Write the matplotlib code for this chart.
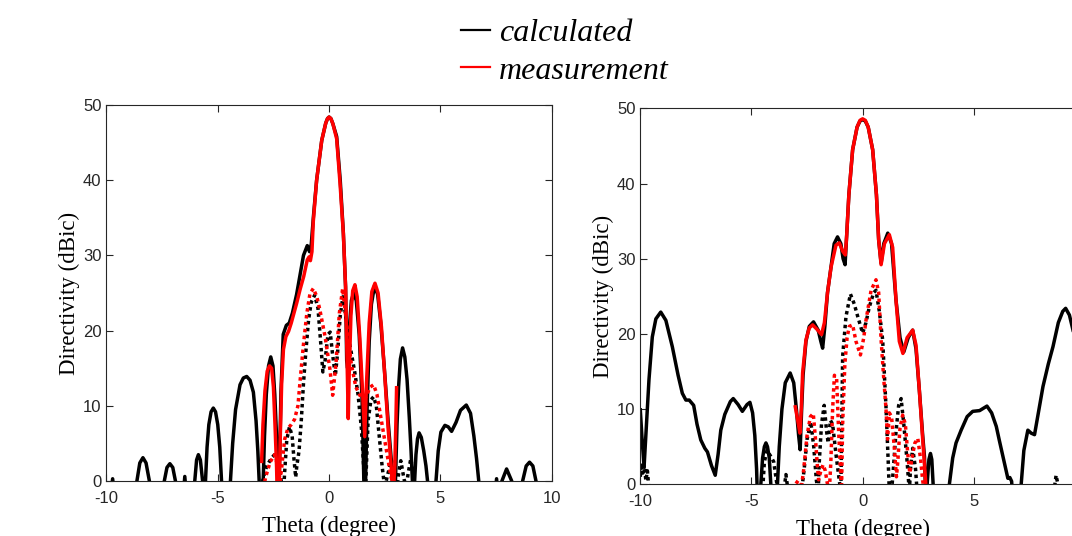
import matplotlib
matplotlib.use("Agg")
import matplotlib.pyplot as plt
from matplotlib.lines import Line2D

plt.rcParams['font.family'] = 'Liberation Sans'
plt.rcParams['axes.unicode_minus'] = False

# (theta deg, directivity dBic); values < 0 are nulls cut by the axis
left_calc_co = [
    (-9.85, -3), (-9.72, 0.3), (-9.6, -3),
    (-8.75, -3), (-8.63, 0), (-8.5, 2.4), (-8.36, 3.1), (-8.22, 2.4), (-8.07, 0), (-7.95, -3),
    (-7.55, -3), (-7.4, 0), (-7.28, 1.8), (-7.15, 2.3), (-7.02, 1.8), (-6.9, 0), (-6.8, -3),
    (-6.58, -3), (-6.48, 0.6), (-6.38, -3),
    (-6.12, -3), (-6.03, 0), (-5.95, 2.8), (-5.87, 3.5), (-5.78, 2.8), (-5.68, 0), (-5.62, -3),
    (-5.55, 0), (-5.48, 4.5), (-5.4, 7.5), (-5.3, 9.2), (-5.2, 9.7), (-5.1, 9.2), (-5.0, 7.5),
    (-4.91, 4.5), (-4.83, 0), (-4.75, -3),
    (-4.55, -3), (-4.43, 0), (-4.33, 5), (-4.2, 9.5), (-4.0, 12.8), (-3.85, 13.7), (-3.7, 13.9),
    (-3.55, 13.4), (-3.4, 11.8), (-3.28, 8), (-3.2, 4), (-3.14, 0), (-3.08, -3),
    (-3.02, -3), (-2.96, 0), (-2.9, 6), (-2.82, 11.5), (-2.72, 15.3), (-2.62, 16.5), (-2.52, 15.3),
    (-2.44, 11.5), (-2.36, 6), (-2.28, 0), (-2.26, -3),
    (-2.24, 0), (-2.16, 12), (-2.06, 19.5), (-1.92, 20.7), (-1.79, 21.0), (-1.65, 22.3),
    (-1.46, 24.8), (-1.3, 27.5), (-1.15, 30), (-0.98, 31.3), (-0.88, 30.5), (-0.8, 31.5),
    (-0.7, 35.3), (-0.56, 40), (-0.33, 45.3), (-0.15, 47.6), (-0.07, 48.2), (0, 48.4),
    (0.08, 48.2), (0.17, 47.5), (0.34, 45.8), (0.5, 40), (0.64, 33), (0.74, 25.8), (0.79, 16),
    (0.83, 15), (0.9, 20),
    (1.0, 24), (1.1, 25), (1.22, 24), (1.35, 19.5), (1.48, 11), (1.56, 0), (1.6, -3),
    (1.64, 0), (1.7, 9), (1.8, 18.5), (1.9, 23.5), (2.04, 26), (2.18, 24.8), (2.32, 21),
    (2.48, 15), (2.65, 8), (2.8, 2.5), (2.88, -3),
    (2.95, -3), (2.98, 0), (3.05, 7.5), (3.12, 12.5), (3.2, 16.2), (3.3, 17.7), (3.4, 16.5),
    (3.5, 13.5), (3.6, 8.5), (3.68, 4), (3.74, 0), (3.79, -3),
    (3.84, 0), (3.9, 3.5), (3.97, 5.6), (4.04, 6.4), (4.14, 5.8), (4.25, 4), (4.35, 2), (4.42, 0), (4.48, -3),
    (4.74, -3), (4.8, 0), (4.9, 4), (5.02, 6.5), (5.2, 7.4), (5.35, 7.2), (5.5, 6.6), (5.7, 7.8),
    (5.9, 9.4), (6.16, 10.1), (6.35, 9), (6.5, 6), (6.62, 3), (6.72, 0), (6.78, -3),
    (7.42, -3), (7.52, 0.3), (7.62, -3),
    (7.7, -3), (7.76, 0), (7.97, 1.6), (8.2, 0), (8.26, -3),
    (8.62, -3), (8.69, 0), (8.85, 2), (9.0, 2.5), (9.15, 2), (9.29, 0), (9.35, -3),
]

left_meas_co = [
    (-3.03, 2.6), (-2.97, 7.5), (-2.88, 12), (-2.78, 14.6), (-2.68, 15.3), (-2.58, 15), (-2.5, 12.5),
    (-2.43, 7.5), (-2.36, 2), (-2.32, -3), (-2.26, -3), (-2.2, 5), (-2.13, 13), (-2.05, 17.5),
    (-1.94, 19.2), (-1.82, 19.9), (-1.7, 21), (-1.46, 23.6), (-1.3, 25.5), (-1.14, 27.2),
    (-0.98, 29.4), (-0.9, 29.8), (-0.84, 29.3), (-0.77, 30.5), (-0.71, 34.5), (-0.56, 40),
    (-0.33, 45.3), (-0.15, 47.6), (-0.07, 48.2), (0, 48.4), (0.08, 48.2), (0.17, 47.5),
    (0.34, 45.5), (0.49, 39.6),
    (0.64, 32.9), (0.74, 25.8), (0.8, 17), (0.86, 8.3), (0.9, 14), (0.98, 22), (1.06, 25.3),
    (1.16, 26.1), (1.26, 24.5), (1.38, 19), (1.5, 12), (1.6, 5.9), (1.68, 13), (1.8, 21),
    (1.92, 25.2), (2.06, 26.3), (2.2, 25), (2.35, 20.5), (2.5, 14), (2.65, 7), (2.8, 1.5),
    (2.88, -2), (2.95, 2), (3.0, 8), (3.03, 12.4),
]

left_calc_x = [
    (-3.1, -2), (-2.95, 0.5), (-2.8, 2), (-2.6, 3), (-2.45, 3.5), (-2.3, 2.5), (-2.15, 0), (-2.05, -2),
    (-2.0, 1), (-1.9, 5.5), (-1.78, 7.2), (-1.66, 6), (-1.58, 3), (-1.5, 0.5), (-1.45, 2), (-1.35, 4),
    (-1.25, 8), (-1.15, 13), (-1.05, 17), (-0.92, 21.5), (-0.8, 23.8), (-0.65, 24.7), (-0.5, 23),
    (-0.38, 18.5), (-0.28, 14.5), (-0.18, 16), (-0.05, 19.5), (0.05, 19.8), (0.15, 17), (0.28, 14),
    (0.38, 17), (0.5, 22), (0.62, 24.5), (0.72, 22.5), (0.85, 19.5), (1.0, 17), (1.15, 14.5),
    (1.3, 11.5), (1.45, 7), (1.55, 2), (1.6, -2), (1.65, 0), (1.75, 8), (1.88, 10.8), (2.0, 11.2),
    (2.12, 10), (2.25, 6), (2.38, 2), (2.5, -1), (2.6, 0.5), (2.8, 2.8), (2.95, 0.5), (3.05, -1),
    (3.12, 1), (3.22, 2.7), (3.35, 0.5), (3.45, -1), (3.55, 1), (3.67, 3), (3.78, 0.5), (3.85, -2),
]

left_meas_x = [
    (-2.95, -1), (-2.85, 0.5), (-2.65, 2.5), (-2.45, 3.5), (-2.3, 2), (-2.2, 0), (-2.12, 2),
    (-2.0, 5.5), (-1.85, 7), (-1.7, 7.5), (-1.55, 8.2), (-1.4, 10), (-1.3, 13.4), (-1.16, 17.9),
    (-1.0, 22.3), (-0.86, 24.9), (-0.71, 25.6), (-0.55, 24.5), (-0.41, 22.7), (-0.18, 19.2),
    (0.04, 14.8), (0.16, 11.4), (0.31, 15.6), (0.46, 22.3), (0.61, 25.6), (0.8, 20.5), (1.0, 15.5),
    (1.2, 12.5), (1.45, 11), (1.65, 11.2), (1.85, 12.5), (2.0, 12.8), (2.15, 11.5), (2.35, 8),
    (2.55, 4.5), (2.75, 1), (2.9, -1),
]

right_calc_co = [
    (-10, 9.9), (-9.92, 6), (-9.83, 2.3), (-9.72, 8), (-9.61, 13.9), (-9.46, 19.6), (-9.3, 22),
    (-9.08, 22.9), (-8.85, 21.8), (-8.56, 18.3), (-8.3, 14.5), (-8.11, 12.1), (-7.95, 11.2),
    (-7.8, 11.2), (-7.6, 10.5), (-7.45, 8), (-7.28, 5.9), (-7.1, 4.8), (-6.98, 4.3), (-6.8, 2.5),
    (-6.63, 1.2), (-6.5, 4), (-6.38, 7.2), (-6.2, 9.3), (-6.08, 10.1), (-5.95, 11), (-5.82, 11.4),
    (-5.6, 10.6), (-5.41, 9.7), (-5.2, 10.6), (-5.07, 10.9), (-4.95, 9.5), (-4.85, 6.5), (-4.77, 2),
    (-4.72, -3),
    (-4.62, -3), (-4.58, 0), (-4.5, 3.5), (-4.42, 5), (-4.35, 5.5), (-4.28, 5), (-4.2, 3.5),
    (-4.13, 0), (-4.08, -3),
    (-3.88, -3), (-3.83, 0), (-3.75, 5), (-3.63, 10), (-3.48, 13.5), (-3.26, 14.8), (-3.1, 13.5),
    (-2.98, 10), (-2.88, 6.5), (-2.81, 4.6), (-2.75, 9.5), (-2.68, 14.5), (-2.55, 19), (-2.4, 21),
    (-2.21, 21.6), (-2.0, 20.5), (-1.88, 19), (-1.8, 18.1), (-1.7, 21), (-1.58, 25.5), (-1.42, 29),
    (-1.28, 32), (-1.13, 32.9), (-0.98, 32), (-0.88, 30), (-0.79, 29.2), (-0.72, 33), (-0.62, 38.5),
    (-0.45, 44.5), (-0.25, 47.5), (-0.12, 48.3), (0, 48.5), (0.12, 48.3), (0.25, 47.5),
    (0.45, 44.5), (0.62, 38.5), (0.72, 32.5),
    (0.83, 29.4), (0.95, 32), (1.13, 33.4), (1.3, 32), (1.5, 24.5), (1.68, 19.5), (1.85, 17.6),
    (2.05, 19.5), (2.25, 20.5), (2.4, 18), (2.55, 12.5), (2.7, 6.5), (2.78, 3.7), (2.85, -3),
    (2.88, -3), (2.9, 0), (2.98, 3.3), (3.05, 4.1), (3.11, 3.3), (3.17, 0), (3.2, -3),
    (3.85, -3), (3.9, 0), (4.05, 3.5), (4.2, 5.5), (4.43, 7.2), (4.7, 9), (4.95, 9.7), (5.26, 9.8),
    (5.59, 10.4), (5.8, 9.5), (6.01, 7.7), (6.15, 5.8), (6.31, 3.7), (6.45, 1.8), (6.53, 0.8),
    (6.62, 0.9), (6.7, 0.4), (6.78, -3),
    (7.08, -3), (7.13, 0), (7.25, 4.5), (7.43, 7.2), (7.58, 6.8), (7.73, 6.6), (7.9, 9.5),
    (8.11, 13), (8.35, 16), (8.56, 18.3), (8.8, 21.5), (9.0, 23), (9.13, 23.4), (9.3, 22.5),
    (9.5, 20), (9.75, 16), (10, 12),
]

right_meas_co = [
    (-3.03, 10.3), (-2.92, 8.5), (-2.82, 6.8), (-2.76, 10), (-2.7, 14.8), (-2.55, 19.2), (-2.4, 20.8),
    (-2.25, 21.2), (-2.05, 20.6), (-1.85, 19.9), (-1.72, 21.5), (-1.58, 25.5), (-1.42, 28.9),
    (-1.2, 31.8), (-1.05, 32.1), (-0.9, 31), (-0.78, 30.5), (-0.72, 33), (-0.62, 38.5),
    (-0.45, 44.5), (-0.25, 47.5), (-0.12, 48.4), (0, 48.6), (0.12, 48.4), (0.25, 47.5),
    (0.45, 44.5), (0.62, 38.5), (0.72, 32.5),
    (0.83, 29.2), (0.98, 32), (1.2, 33.2), (1.35, 31.5), (1.5, 24.5), (1.65, 19), (1.81, 17.4),
    (2.0, 19.5), (2.25, 20.5), (2.4, 18.5), (2.55, 12.5), (2.7, 6), (2.82, 1), (2.88, -2),
]

right_calc_x = [
    (-10, 1), (-9.95, 2.8), (-9.88, 1.5), (-9.82, 2.5), (-9.75, 0.5), (-9.68, 1.8), (-9.6, -1),
    (-4.5, -1), (-4.42, 3), (-4.3, 4.5), (-4.15, 3.8), (-4.0, 3), (-3.88, 0.5), (-3.8, -1),
    (-3.55, -1), (-3.45, 1.3), (-3.35, -1),
    (-2.75, -1), (-2.63, 2), (-2.5, 6), (-2.33, 8.3), (-2.2, 5), (-2.08, 0.5), (-2.0, -1),
    (-1.95, 3), (-1.85, 8), (-1.73, 10.5), (-1.62, 7), (-1.55, 5.5), (-1.45, 8.5), (-1.35, 8),
    (-1.2, 4), (-1.05, 0.5), (-0.98, -1), (-0.94, 8), (-0.9, 17), (-0.75, 22.3), (-0.55, 25.3),
    (-0.38, 24), (-0.22, 22.3), (0, 20.1), (0.15, 21.5), (0.3, 23.6), (0.5, 25.5), (0.6, 25.8),
    (0.75, 23), (0.9, 19.2), (1.05, 10.3), (1.15, 3), (1.2, -1),
    (1.3, -1), (1.38, 2), (1.5, 7), (1.62, 10.5), (1.73, 11.4), (1.85, 8), (2.0, 3), (2.1, -1),
    (2.15, 2), (2.25, 4.8), (2.38, 2), (2.45, -1),
    (8.6, -1), (8.7, 1.2), (8.85, -1),
]

right_meas_x = [
    (-3.0, 0.1), (-2.9, 0.5), (-2.78, -1), (-2.65, 2), (-2.5, 6.5), (-2.35, 9), (-2.22, 9.4),
    (-2.12, 6), (-2.05, 3), (-1.98, 0.6), (-1.88, 1.8), (-1.78, 2.6), (-1.68, 1.8), (-1.6, 0.3),
    (-1.5, -1), (-1.43, 3), (-1.35, 10), (-1.27, 14.5), (-1.17, 14), (-1.08, 7), (-1.0, 2),
    (-0.95, -1), (-0.9, 8), (-0.8, 16), (-0.7, 19.5), (-0.6, 21), (-0.45, 21.2), (-0.3, 19),
    (-0.1, 17.2), (0.05, 19.5), (0.15, 21.8), (0.38, 25.8), (0.6, 27.2), (0.72, 25.5), (0.83, 19.2),
    (0.95, 14), (1.05, 10), (1.12, 6), (1.2, 9.5), (1.3, 9), (1.42, 5), (1.52, 1), (1.58, 3),
    (1.68, 7.5), (1.8, 9.2), (1.92, 8), (2.03, 4), (2.12, 1.5), (2.22, 3.5), (2.35, 5.5),
    (2.48, 6.1), (2.6, 3.5), (2.7, 0.5), (2.78, -1),
]

xticks = [-10, -5, 0, 5, 10]
yticks = [0, 10, 20, 30, 40, 50]
dark = '#262626'
serif = 'Liberation Serif'


def draw_panel(ax, calc_co, calc_x, meas_x, meas_co, xlabels):
    lw = 2.5
    for pts, color, ls in [(calc_co, 'black', '-'), (calc_x, 'black', (0, (1, 1))),
                           (meas_x, 'red', (0, (1, 1))), (meas_co, 'red', '-')]:
        x, y = zip(*pts)
        ax.plot(x, y, color=color, lw=lw, linestyle=ls)
    ax.set_xlim(-10, 10)
    ax.set_ylim(0, 50)
    ax.set_xticks(xticks, xlabels)
    ax.set_yticks(yticks)
    ax.tick_params(direction='in', top=True, right=True, length=5, width=0.8,
                   labelsize=12, colors=dark)
    ax.tick_params(axis='x', pad=7)
    for sp in ax.spines.values():
        sp.set_color(dark)
        sp.set_linewidth(0.8)
    ax.set_xlabel('Theta (degree)', fontfamily=serif, fontsize=16.5, labelpad=7)
    ax.set_ylabel('Directivity (dBic)', fontfamily=serif, fontsize=16.5, labelpad=2)


fig = plt.figure(figsize=(10.72, 5.36), dpi=100)
ax1 = fig.add_axes([106.4 / 1072, 55 / 536, 445.4 / 1072, 376 / 536])
ax2 = fig.add_axes([640.3 / 1072, 51.7 / 536, 444.7 / 1072, 376 / 536])

draw_panel(ax1, left_calc_co, left_calc_x, left_meas_x, left_meas_co,
           [str(t) for t in xticks])
# the right panel runs past the figure edge, so its last tick label is not shown
draw_panel(ax2, right_calc_co, right_calc_x, right_meas_x, right_meas_co,
           [str(t) for t in xticks[:-1]] + [''])

handles = [Line2D([], [], color='black', lw=1.6), Line2D([], [], color='red', lw=1.6)]
fig.legend(handles, ['calculated', 'measurement'], loc='center left',
           bbox_to_anchor=(461 / 1072, 1 - 52 / 536), frameon=False,
           borderpad=0, borderaxespad=0, handlelength=0.9, handletextpad=0.3,
           labelspacing=0.26, prop={'family': serif, 'style': 'italic', 'size': 23})

fig.savefig('out.png', dpi=100)
